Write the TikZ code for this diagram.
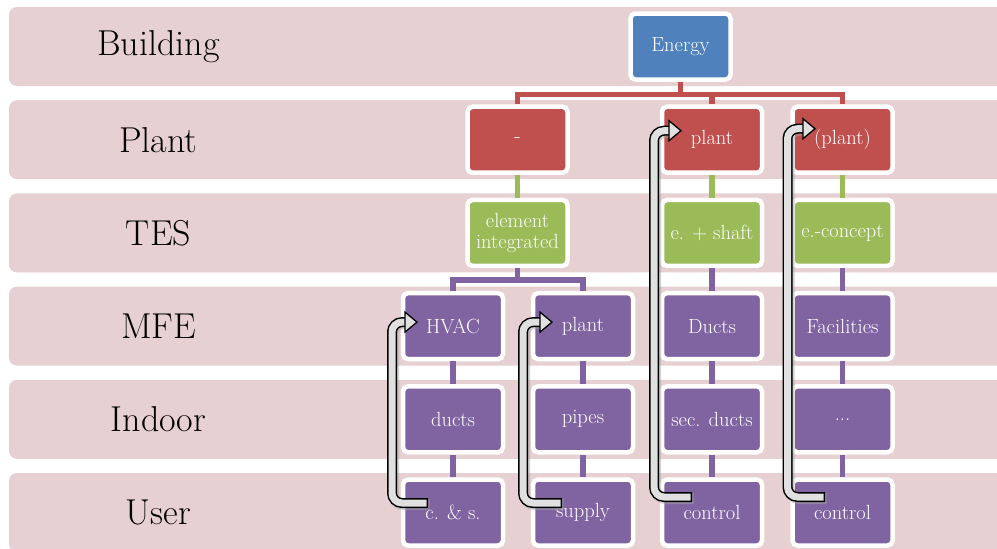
\documentclass[tikz,border=0pt]{standalone}
\usetikzlibrary{calc}
\definecolor{band}{RGB}{230,208,209}
\definecolor{cblue}{RGB}{79,129,189}
\definecolor{cred}{RGB}{192,80,77}
\definecolor{cgreen}{RGB}{155,187,89}
\definecolor{cpurple}{RGB}{128,100,162}
\definecolor{arrgray}{RGB}{224,224,224}
\tikzset{
  box/.style={draw=white, line width=4.5pt, rounded corners=5pt,
    minimum width=100pt, minimum height=66pt, inner sep=2pt,
    text=white, align=center, font=\fontsize{20.5}{20.5}\selectfont},
  bluebox/.style={box, fill=cblue},
  redbox/.style={box, fill=cred},
  greenbox/.style={box, fill=cgreen},
  purplebox/.style={box, fill=cpurple},
  rowlabel/.style={font=\fontsize{36}{40}\selectfont, text=black},
  bandbox/.style={fill=band, rounded corners=8pt},
  link/.style={line width=5.5pt},
}
% curved return arrow: start, corner, tip
\newcommand\looparrow[3]{%
  \draw[line width=11pt, black!35, opacity=.5, rounded corners=10pt]
    ($(#1)+(1.5,-1.5)$) -| ($(#2)+(1.5,-1.5)$) -- ($(#3)+(-9,-1.5)$);
  \draw[line width=10pt, black, rounded corners=10pt]
    (#1) -| (#2) -- ($(#3)+(-9,0)$);
  \draw[line width=7pt, arrgray, rounded corners=10pt, shorten <=1.5pt]
    (#1) -| (#2) -- ($(#3)+(-9,0)$);
  \filldraw[fill=arrgray, draw=black, line width=1.3pt, line join=miter]
    ($(#3)+(-12,10)$) -- (#3) -- ($(#3)+(-12,-10)$) -- cycle;
}
\begin{document}
\begin{tikzpicture}[x=1pt, y=1pt]
\useasboundingbox (0,0) rectangle (997,-549);
\fill[white] (0,0) rectangle (997,-549);

% horizontal bands
\foreach \i in {0,...,5}{
  \fill[bandbox] (9,{-7-93.2*\i}) rectangle (1010,{-86-93.2*\i});
}

% row labels
\node[rowlabel] (lb0) at (158.5,-46.5)  {Building};
\node[rowlabel] (lb1) at (158.5,-139.7) {Plant};
\node[rowlabel] (lb2) at (158.5,-232.9) {TES};
\node[rowlabel] (lb3) at (158.5,-326.1) {MFE};
\node[rowlabel] (lb4) at (158.5,-419.3) {Indoor};
\node[rowlabel] (lb5) at (158.5,-512.5) {User};

% boxes
\node[bluebox] (E) at (680.5,-46.5) {Energy};

\node[redbox] (P1) at (517.5,-139.7) {-};
\node[redbox] (P2) at (712,-139.7)   {plant};
\node[redbox] (P3) at (842.5,-139.7) {(plant)};

\node[greenbox] (T1) at (517.5,-232.9) {element\\integrated};
\node[greenbox] (T2) at (712,-232.9)   {e. + shaft};
\node[greenbox] (T3) at (842.5,-232.9) {e.-concept};

\node[purplebox] (M1) at (453,-326.1)   {HVAC};
\node[purplebox] (M2) at (583,-326.1)   {plant};
\node[purplebox] (M3) at (712,-326.1)   {Ducts};
\node[purplebox] (M4) at (842.5,-326.1) {Facilities};

\node[purplebox] (I1) at (453,-419.3)   {ducts};
\node[purplebox] (I2) at (583,-419.3)   {pipes};
\node[purplebox] (I3) at (712,-419.3)   {sec. ducts};
\node[purplebox] (I4) at (842.5,-419.3) {...};

\node[purplebox] (U1) at (453,-512.5)   {c. \& s.};
\node[purplebox] (U2) at (583,-512.5)   {supply};
\node[purplebox] (U3) at (712,-512.5)   {control};
\node[purplebox] (U4) at (842.5,-512.5) {control};

% connectors
\draw[link, cred] (E.south) -- ++(0,-12.5) -| (P1.north);
\draw[link, cred] (E.south) -- ++(0,-12.5) -| (P2.north);
\draw[link, cred] (E.south) -- ++(0,-12.5) -| (P3.north);

\draw[link, cgreen] (P1) -- (T1);
\draw[link, cgreen] (P2) -- (T2);
\draw[link, cgreen] (P3) -- (T3);

\draw[link, cpurple] (T1.south) -- ++(0,-12) -| (M1.north);
\draw[link, cpurple] (T1.south) -- ++(0,-12) -| (M2.north);
\draw[link, cpurple] (T2) -- (M3);
\draw[link, cpurple] (T3) -- (M4);

\foreach \c in {1,2,3,4}{
  \draw[link, cpurple] (M\c) -- (I\c);
  \draw[link, cpurple] (I\c) -- (U\c);
}

% return arrows
\coordinate (a1s) at ($(U1.center)+(-25,9.5)$);
\coordinate (a1c) at ($(M1.center)+(-61,4)$);
\coordinate (a1t) at ($(M1.center)+(-36,4)$);
\coordinate (a2s) at ($(U2.center)+(-21,9.5)$);
\coordinate (a2c) at ($(M2.center)+(-60,4)$);
\coordinate (a2t) at ($(M2.center)+(-31,4)$);
\coordinate (a3s) at ($(U3.center)+(-20,15.5)$);
\coordinate (a3c) at ($(P2.center)+(-58,9)$);
\coordinate (a3t) at ($(P2.center)+(-31,9)$);
\coordinate (a4s) at ($(U4.center)+(-17.5,15.5)$);
\coordinate (a4c) at ($(P3.center)+(-55,11)$);
\coordinate (a4t) at ($(P3.center)+(-27.5,11)$);
\looparrow{a1s}{a1c}{a1t}
\looparrow{a2s}{a2c}{a2t}
\looparrow{a3s}{a3c}{a3t}
\looparrow{a4s}{a4c}{a4t}
\end{tikzpicture}
\end{document}
